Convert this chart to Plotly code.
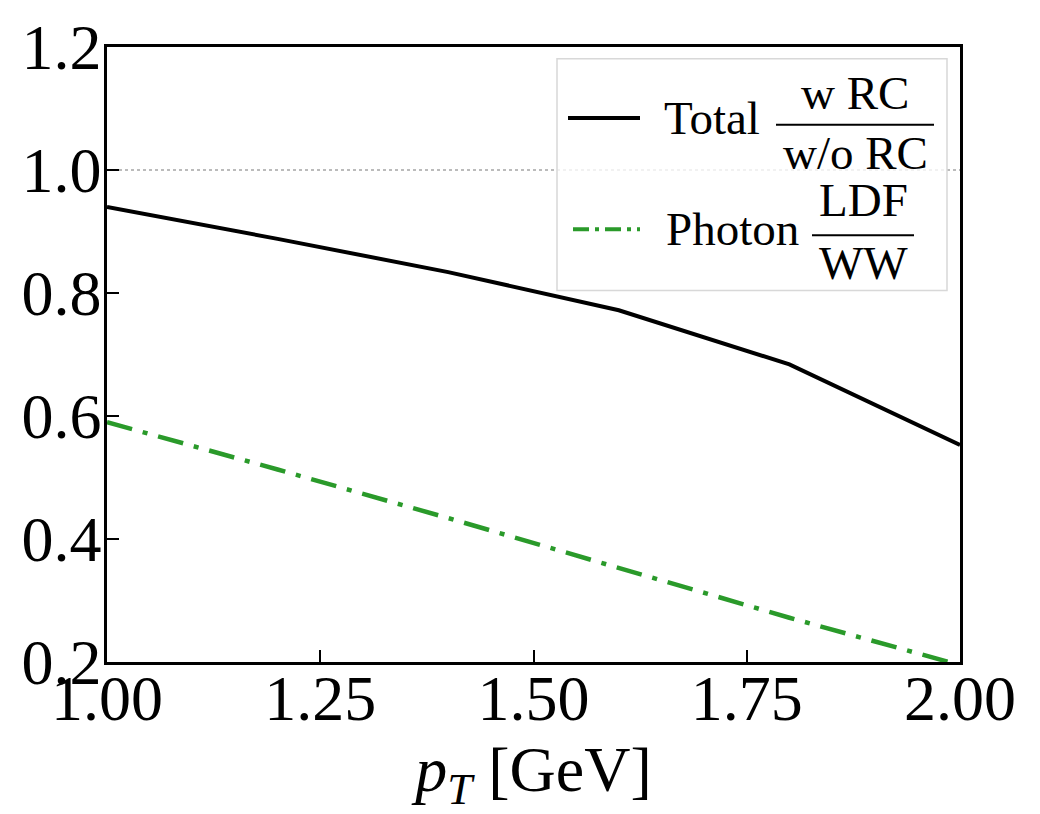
import plotly.graph_objects as go

# Data
pt = [1.0, 1.2, 1.4, 1.6, 1.8, 2.0]
total_ratio = [0.940, 0.888, 0.834, 0.772, 0.684, 0.553]
photon_ratio = [0.590, 0.513, 0.434, 0.353, 0.272, 0.195]
ref_x = [1.0, 2.0]
ref_y = [1.0, 1.0]
x_ticks = [1.0, 1.25, 1.5, 1.75, 2.0]
x_ticktext = ["1.00", "1.25", "1.50", "1.75", "2.00"]
y_ticks = [0.2, 0.4, 0.6, 0.8, 1.0, 1.2]
y_ticktext = ["0.2", "0.4", "0.6", "0.8", "1.0", "1.2"]

FONT = "Liberation Serif"
GREEN = "#2a9a2a"
W, H = 1040, 814
ML, MR, MT, MB = 107, 80, 38, 152
PW = W - ML - MR
PH = H - MT - MB


def px(x):
    return (x - ML) / PW


def py(y):
    return 1 - (y - MT) / PH


fig = go.Figure()
fig.add_trace(go.Scatter(x=ref_x, y=ref_y, mode="lines",
                         line=dict(color="#bbbbbb", width=2, dash="dot"),
                         showlegend=False, hoverinfo="skip"))
fig.add_trace(go.Scatter(x=pt, y=total_ratio, mode="lines",
                         line=dict(color="black", width=4),
                         showlegend=False))
fig.add_trace(go.Scatter(x=pt, y=photon_ratio, mode="lines",
                         line=dict(color=GREEN, width=4.5, dash="26px,11px,5px,11px"),
                         showlegend=False))

shapes = []
annotations = []

# legend box
shapes.append(dict(type="rect", xref="paper", yref="paper",
                   x0=px(557), x1=px(947), y0=py(285), y1=py(50),
                   line=dict(color="#d8d8d8", width=1.5),
                   fillcolor="rgba(255,255,255,0.8)", layer="above"))

LF = 47


def legend_entry(ycen, color, dash, label, label_x, num, den, fx0, fx1, bar_y, num_y, den_y, sx0, sx1):
    shapes.append(dict(type="line", xref="paper", yref="paper",
                       x0=px(sx0), x1=px(sx1), y0=py(ycen), y1=py(ycen),
                       line=dict(color=color, width=4, dash=dash), layer="above"))
    annotations.append(dict(text=label, xref="paper", yref="paper",
                            x=px(label_x), y=py(ycen), xanchor="left", yanchor="middle",
                            showarrow=False, font=dict(family=FONT, size=LF, color="black")))
    cx = px((fx0 + fx1) / 2)
    shapes.append(dict(type="line", xref="paper", yref="paper",
                       x0=px(fx0), x1=px(fx1), y0=py(bar_y), y1=py(bar_y),
                       line=dict(color="black", width=2), layer="above"))
    annotations.append(dict(text=num, xref="paper", yref="paper",
                            x=cx, y=py(num_y), xanchor="center", yanchor="middle",
                            showarrow=False, font=dict(family=FONT, size=LF, color="black")))
    annotations.append(dict(text=den, xref="paper", yref="paper",
                            x=cx, y=py(den_y), xanchor="center", yanchor="middle",
                            showarrow=False, font=dict(family=FONT, size=LF, color="black")))


legend_entry(110, "black", "solid", "Total", 662, "w RC", "w/o RC",
             776, 934, 117, 85, 146, 568, 640)
legend_entry(223, GREEN, "16px,6px,4px,6px", "Photon", 664, "LDF", "WW",
             812, 914, 229, 193, 257, 573, 640)

fig.update_layout(
    width=W, height=H,
    margin=dict(l=ML, r=MR, t=MT, b=MB),
    plot_bgcolor="white", paper_bgcolor="white",
    font=dict(family=FONT, size=60, color="black"),
    shapes=shapes, annotations=annotations,
    showlegend=False,
)
fig.update_xaxes(range=[1.0, 2.0], tickvals=x_ticks, ticktext=x_ticktext,
                 ticks="inside", ticklen=12, tickwidth=2, tickcolor="black",
                 showline=True, linecolor="black", linewidth=2.5, mirror=True,
                 showgrid=False, zeroline=False,
                 ticklabelstandoff=-22,
                 tickfont=dict(family=FONT, size=64),
                 title=dict(text="<i>p<sub>T</sub></i> [GeV]",
                            font=dict(family=FONT, size=64), standoff=0))
fig.update_yaxes(range=[0.2, 1.2], tickvals=y_ticks, ticktext=y_ticktext,
                 ticks="inside", ticklen=12, tickwidth=2, tickcolor="black",
                 showline=True, linecolor="black", linewidth=2.5, mirror=True,
                 showgrid=False, zeroline=False,
                 ticklabelstandoff=-10,
                 tickfont=dict(family=FONT, size=64))

fig.write_html("out.html")
